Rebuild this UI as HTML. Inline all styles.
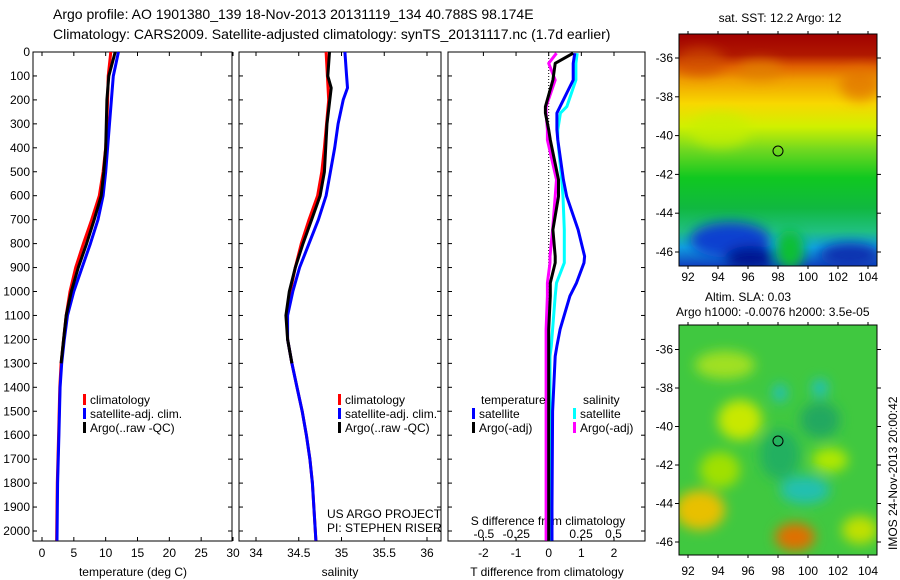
<!DOCTYPE html>
<html><head><meta charset="utf-8"><style>
body{margin:0;background:#fff}
svg{display:block;font-family:"Liberation Sans",sans-serif}
text{fill:#000}
</style></head><body>
<svg id="c" width="900" height="580" viewBox="0 0 900 580">
<defs>
<linearGradient id="sst" x1="0" y1="0" x2="0" y2="1">
<stop offset="0" stop-color="#a00000"/><stop offset="0.09" stop-color="#b01800"/>
<stop offset="0.14" stop-color="#e06000"/><stop offset="0.2" stop-color="#f0a000"/>
<stop offset="0.3" stop-color="#f8d800"/><stop offset="0.4" stop-color="#d0f000"/>
<stop offset="0.5" stop-color="#70d820"/><stop offset="0.62" stop-color="#10c820"/>
<stop offset="0.75" stop-color="#10b840"/><stop offset="0.85" stop-color="#20c080"/>
<stop offset="0.92" stop-color="#10a0e0"/><stop offset="1" stop-color="#1040c0"/>
</linearGradient>
<filter id="bl"><feGaussianBlur stdDeviation="6"/></filter>
<clipPath id="m1"><rect x="679" y="34" width="198" height="232"/></clipPath>
<clipPath id="m2"><rect x="679" y="325" width="198" height="230"/></clipPath>
</defs>
<text x="53" y="19" font-size="14">Argo profile: AO 1901380_139 18-Nov-2013 20131119_134 40.788S 98.174E</text>
<text x="53" y="39" font-size="14">Climatology: CARS2009. Satellite-adjusted climatology: synTS_20131117.nc (1.7d earlier)</text>
<g id="p"></g>
<!-- SST map -->
<g clip-path="url(#m1)">
<rect x="679" y="34" width="198" height="232" fill="url(#sst)"/>
<g filter="url(#bl)">
<ellipse cx="700" cy="62" rx="25" ry="14" fill="#d05000" opacity="0.7"/>
<ellipse cx="760" cy="70" rx="22" ry="10" fill="#e08000" opacity="0.7"/>
<ellipse cx="860" cy="85" rx="20" ry="16" fill="#e07000" opacity="0.7"/>
<ellipse cx="730" cy="240" rx="40" ry="18" fill="#1040d0"/>
<ellipse cx="750" cy="258" rx="25" ry="12" fill="#001890"/>
<ellipse cx="850" cy="255" rx="30" ry="12" fill="#1030b0"/>
<ellipse cx="790" cy="250" rx="14" ry="20" fill="#10c030"/>
<ellipse cx="720" cy="130" rx="30" ry="18" fill="#c8f000" opacity="0.7"/>
</g>
<circle cx="778" cy="151" r="5" fill="none" stroke="#000"/>
</g>
<rect x="679" y="34" width="198" height="232" fill="none" stroke="#000"/>
<text x="780" y="22" font-size="12" text-anchor="middle">sat. SST: 12.2 Argo: 12</text>
<!-- SLA map -->
<g clip-path="url(#m2)">
<rect x="679" y="325" width="198" height="230" fill="#40c840"/>
<g filter="url(#bl)">
<ellipse cx="725" cy="365" rx="30" ry="14" fill="#a0e020"/>
<ellipse cx="740" cy="420" rx="22" ry="20" fill="#c8e800"/>
<ellipse cx="780" cy="455" rx="20" ry="25" fill="#20b060"/>
<ellipse cx="820" cy="420" rx="20" ry="18" fill="#20a860"/>
<ellipse cx="830" cy="460" rx="18" ry="12" fill="#b0e800"/>
<ellipse cx="805" cy="490" rx="25" ry="14" fill="#20c0b0"/>
<ellipse cx="780" cy="393" rx="7" ry="9" fill="#20c0c0"/>
<ellipse cx="820" cy="388" rx="8" ry="9" fill="#20c0c0"/>
<ellipse cx="700" cy="510" rx="25" ry="20" fill="#e8c000"/>
<ellipse cx="795" cy="537" rx="20" ry="14" fill="#e07000"/>
<ellipse cx="720" cy="470" rx="20" ry="18" fill="#a0e000"/>
<ellipse cx="860" cy="530" rx="18" ry="14" fill="#c0e000"/>
</g>
<circle cx="778" cy="441" r="5" fill="none" stroke="#000"/>
</g>
<rect x="679" y="325" width="198" height="230" fill="none" stroke="#000"/>
<text x="705" y="301" font-size="12">Altim. SLA: 0.03</text>
<text x="676" y="316" font-size="12">Argo h1000: -0.0076 h2000: 3.5e-05</text>
<text transform="translate(897,550) rotate(-90)" font-size="12">IMOS 24-Nov-2013 20:00:42</text>
<text x="327" y="518" font-size="12">US ARGO PROJECT</text>
<text x="327" y="532" font-size="12">PI: STEPHEN RISER</text>
</svg>
<script>
const depthTicks=[0,100,200,300,400,500,600,700,800,900,1000,1100,1200,1300,1400,1500,1600,1700,1800,1900,2000];
const tTicks=[0,5,10,15,20,25,30];
const sTicks=[34,34.5,35,35.5,36];
const dtTicks=[-2,-1,0,1,2];
const dsTicks=[-0.5,-0.25,0,0.25,0.5];
const dsTickLabels=["-0.5","-0.25","0","0.25","0.5"];
const tClimDepth=[0,50,100,200,300,400,500,600,700,800,900,1000,1100,1200,1300,1400,1600,1800,2040];
const tClim=[10.8,10.6,10.4,10.3,10.2,10.0,9.6,9.0,7.8,6.5,5.3,4.4,3.8,3.4,3.0,2.8,2.6,2.4,2.3];
const tSat=[12.0,11.6,11.2,10.9,10.6,10.3,10.0,9.6,8.8,7.6,6.3,5.0,4.0,3.5,3.1,2.85,2.65,2.45,2.35];
const tArgoDepth=[0,50,100,200,300,400,500,600,700,800,900,1000,1100,1200,1300];
const tArgo=[11.5,11.0,10.5,10.2,10.1,10.0,9.7,9.3,8.2,7.0,5.7,4.6,3.8,3.4,3.0];
const sClimDepth=[0,200,400,500,600,700,800,900,1000,1100,1200,1300,1400,1500,1600,1700,1800,2040];
const sClim=[34.82,34.85,34.8,34.77,34.72,34.62,34.53,34.46,34.4,34.36,34.37,34.42,34.48,34.54,34.59,34.63,34.66,34.7];
const sSatDepth=[0,100,150,200,300,400,500,600,700,800,900,1000,1100,1200,1300,1400,1500,1600,1700,1800,2040];
const sSat=[35.04,35.06,35.07,35.02,34.96,34.92,34.87,34.82,34.73,34.62,34.51,34.43,34.37,34.37,34.42,34.48,34.54,34.59,34.63,34.66,34.7];
const sArgoDepth=[0,100,150,300,500,600,700,800,900,1000,1100,1200,1300];
const sArgo=[34.86,34.84,34.88,34.83,34.8,34.75,34.65,34.55,34.46,34.39,34.35,34.37,34.42];
const dDepth=[5,47,117,228,255,325,367,533,603,742,853,880,964,1019,1158,1228,1270,1500,1900,2040];
const dtSat=[0.8,0.75,0.75,0.35,0.25,0.25,0.28,0.45,0.55,0.9,1.1,1.08,0.85,0.65,0.35,0.25,0.2,0.12,0.1,0.1];
const dsSat=[0.22,0.21,0.21,0.14,0.09,0.07,0.07,0.1,0.11,0.12,0.12,0.12,0.06,0.05,0.03,0.02,0.01,0.01,0.01,0.01];
const dtArgo=[0.75,0.2,0.13,-0.1,-0.1,0.0,0.05,0.3,0.3,0.13,0.2,0.2,0.05,0.05,0,0,0,0,0,0];
const dsArgo=[0.06,0,0.05,-0.02,-0.02,-0.01,-0.01,0.06,0.05,0.03,0.01,0.01,-0.01,-0.01,-0.02,-0.02,-0.02,-0.02,-0.02,-0.02];
const latTicks=[-36,-38,-40,-42,-44,-46];
const lonTicks=[92,94,96,98,100,102,104];

const NS='http://www.w3.org/2000/svg';
const g=document.getElementById('p');
function el(t,a,par){const e=document.createElementNS(NS,t);for(const k in a)e.setAttribute(k,a[k]);(par||g).appendChild(e);return e;}
const Y0=52,YB=541;
const yD=d=>Y0+d*0.2395;
function lin(d0,p0,d1,p1){return v=>p0+(v-d0)*(p1-p0)/(d1-d0);}
const xT=lin(0,42,30,233);
const xS=lin(34,256,36,427);
const xDT=lin(0,548.7,2,614);
const xDS=lin(0,548.7,0.5,613.5);
const panels=[[33,232],[239,441],[448,645]];
panels.forEach((p,i)=>{
  const r=el('rect',{x:p[0],y:Y0,width:p[1]-p[0],height:YB-Y0,fill:'none',stroke:'#000'});
  
  
  depthTicks.forEach(d=>{const y=yD(d);
    el('line',{x1:p[0],x2:p[0]+4,y1:y,y2:y,stroke:'#000'});
    el('line',{x1:p[1],x2:p[1]-4,y1:y,y2:y,stroke:'#000'});});
});
depthTicks.forEach(d=>{const t=el('text',{x:30,y:yD(d)+4,'font-size':12,'text-anchor':'end'});t.textContent=d;
  
  });
function xticks(arr,fx,labels,ty,top){arr.forEach((v,i)=>{const x=fx(v);
  if(top!==false){el('line',{x1:x,x2:x,y1:Y0,y2:Y0+4,stroke:'#000'});}
  el('line',{x1:x,x2:x,y1:YB,y2:YB-4,stroke:'#000'});
  const t=el('text',{x:x,y:ty,'font-size':12,'text-anchor':'middle'});t.textContent=labels?labels[i]:v;
  
  });}
xticks(tTicks,xT,null,557);
xticks(sTicks,xS,null,557);
xticks(dtTicks,xDT,null,557);
dsTicks.forEach((v,i)=>{const t=el('text',{x:xDS(v),y:538,'font-size':12,'text-anchor':'middle'});t.textContent=dsTickLabels[i];
  
  });
function lab(x,y,s,n,anchor){const t=el('text',{x:x,y:y,'font-size':12,'text-anchor':anchor||'middle'});t.textContent=s;
  
  return t;}
lab(133,576,'temperature (deg C)','temperature-axis-title');
lab(340,576,'salinity','salinity-axis-title');
lab(547,576,'T difference from climatology','t-diff-axis-title');
lab(548,525,'S difference from climatology','s-diff-axis-title');
// zero dotted line
el('line',{x1:548.7,x2:548.7,y1:Y0,y2:YB,stroke:'#000','stroke-dasharray':'1,2'});
function line(ds,vs,fx,col,n){const pts=ds.map((d,i)=>fx(vs[i]).toFixed(1)+','+yD(d).toFixed(1)).join(' ');
  const p=el('polyline',{points:pts,fill:'none',stroke:col,'stroke-width':3,'stroke-linejoin':'round'});
  
  }
line(tClimDepth,tClim,xT,'#ff0000','temp-climatology-line');
line(tClimDepth,tSat,xT,'#0000ff','temp-satellite-line');
line(tArgoDepth,tArgo,xT,'#000','temp-argo-line');
line(sClimDepth,sClim,xS,'#ff0000','sal-climatology-line');
line(sSatDepth,sSat,xS,'#0000ff','sal-satellite-line');
line(sArgoDepth,sArgo,xS,'#000','sal-argo-line');
line(dDepth,dsSat,xDS,'#00ffff','s-diff-satellite-line');
line(dDepth,dtSat,xDT,'#0000ff','t-diff-satellite-line');
line(dDepth,dsArgo,xDS,'#ff00ff','s-diff-argo-line');
line(dDepth,dtArgo,xDT,'#000','t-diff-argo-line');
function leg(x,y,col,s,n){const r=el('rect',{x:x,y:y-10,width:3,height:11,fill:col});
  
  
  lab(x+7,y,s,n,'start');}
leg(83,404,'#ff0000','climatology','legend-climatology');
leg(83,418,'#0000ff','satellite-adj. clim.','legend-satellite');
leg(83,432,'#000','Argo(..raw -QC)','legend-argo');
leg(338,404,'#ff0000','climatology','legend2-climatology');
leg(338,418,'#0000ff','satellite-adj. clim.','legend2-satellite');
leg(338,432,'#000','Argo(..raw -QC)','legend2-argo');
lab(481,404,'temperature','legend-temperature-heading','start');
lab(583,404,'salinity','legend-salinity-heading','start');
leg(472,418,'#0000ff','satellite','legend-t-satellite');
leg(472,432,'#000','Argo(-adj)','legend-t-argo');
leg(573,418,'#00ffff','satellite','legend-s-satellite');
leg(573,432,'#ff00ff','Argo(-adj)','legend-s-argo');
// map axes
const latY1=lin(-36,58,-46,252), latY2=lin(-38,388,-46,542), lonX=lin(92,688,104,868);
[[latY1,34,266,281],[latY2,325,555,575]].forEach((m,k)=>{
  latTicks.forEach(v=>{const y=m[0](v);
    el('line',{x1:675,x2:679,y1:y,y2:y,stroke:'#000'});el('line',{x1:877,x2:881,y1:y,y2:y,stroke:'#000'});
    lab(673,y+4,String(v).replace('-','-'),'lat-tick-label','end');});
  lonTicks.forEach(v=>{const x=lonX(v);
    el('line',{x1:x,x2:x,y1:m[1]-3,y2:m[1],stroke:'#000'});el('line',{x1:x,x2:x,y1:m[2],y2:m[2]+3,stroke:'#000'});
    lab(x,m[3],String(v),'lon-tick-label');});
});
</script>
</body></html>
